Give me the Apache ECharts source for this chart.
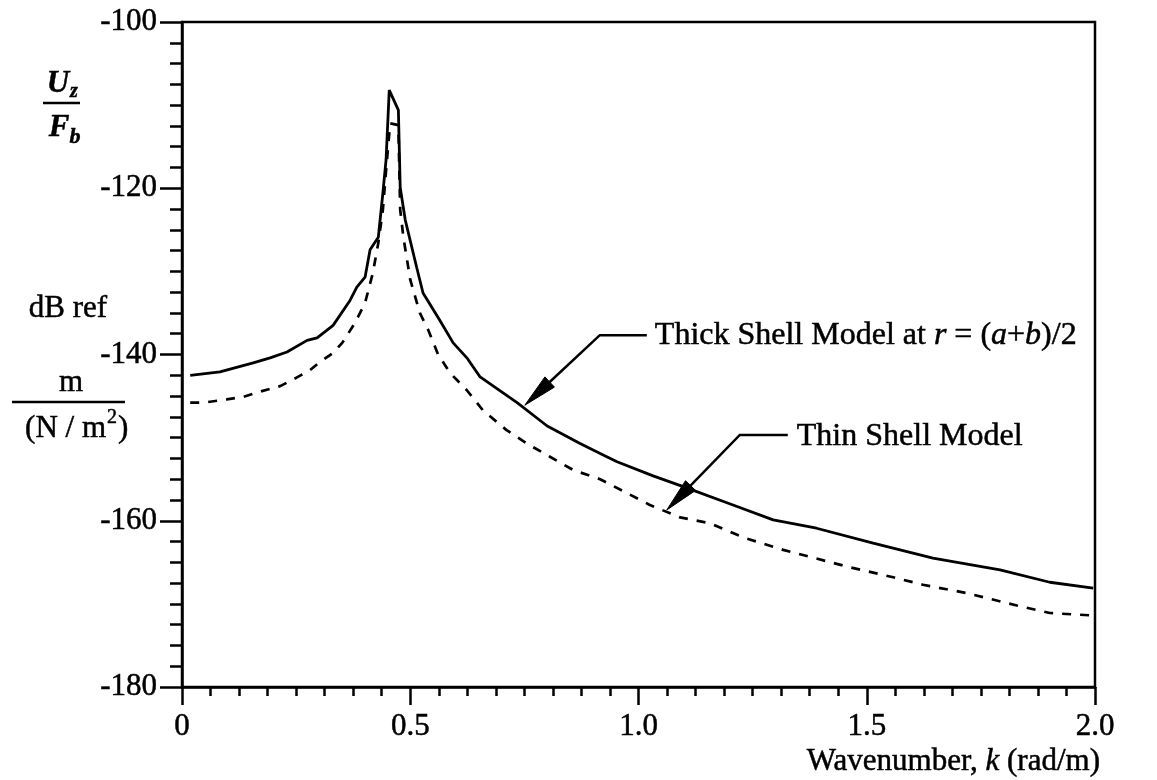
<!DOCTYPE html>
<html>
<head>
<meta charset="utf-8">
<script src="https://cdn.jsdelivr.net/npm/echarts@6/dist/echarts.min.js"></script>
<style>
  html, body { margin: 0; padding: 0; background: #fff; }
  #main { width: 1157px; height: 780px; }
</style>
</head>
<body>
<div id="main"></div>
<script>
var chartDom = document.getElementById('main');
var myChart = echarts.init(chartDom);
var option;

var FONT = "'Liberation Serif', 'Times New Roman', serif";

// thick shell model, r = (a+b)/2 (solid)
var kThick = [0.018, 0.083, 0.156, 0.193, 0.23, 0.274, 0.296, 0.331, 0.368, 0.383,
  0.401, 0.412, 0.43, 0.44, 0.447, 0.454, 0.474, 0.478, 0.489, 0.514,
  0.528, 0.565, 0.594, 0.624, 0.653, 0.734, 0.8, 0.872, 0.916, 0.953,
  1.032, 1.098, 1.207, 1.295, 1.39, 1.514, 1.645, 1.792, 1.901, 1.996];
var thick = [-142.5, -142.1, -141.0, -140.4, -139.7, -138.3, -138.0, -136.5, -133.5, -131.9,
  -130.7, -127.4, -125.9, -120.6, -116.6, -108.2, -110.6, -119.9, -123.8, -129.5,
  -132.6, -135.9, -138.6, -140.4, -142.7, -145.8, -148.6, -150.7, -151.9, -152.9,
  -154.6, -155.9, -158.1, -159.9, -160.9, -162.7, -164.5, -165.9, -167.4, -168.1];

// thin shell model (dashed)
var kThin = [0.018, 0.046, 0.098, 0.134, 0.175, 0.215, 0.247, 0.28, 0.3, 0.331,
  0.351, 0.379, 0.401, 0.418, 0.43, 0.44, 0.449, 0.456, 0.474, 0.476,
  0.478, 0.485, 0.5, 0.521, 0.539, 0.561, 0.587, 0.624, 0.659, 0.711,
  0.755, 0.806, 0.857, 0.916, 1.025, 1.091, 1.157, 1.229, 1.317, 1.463,
  1.558, 1.623, 1.719, 1.829, 1.901, 1.996];
var thin = [-145.8, -145.8, -145.4, -145.1, -144.4, -143.8, -142.9, -141.9, -141.0, -139.8,
  -138.6, -136.2, -133.8, -130.2, -126.6, -122.6, -116.6, -112.2, -112.4, -117.8,
  -122.6, -125.9, -131.0, -135.0, -137.0, -140.0, -142.2, -144.3, -146.7, -149.1,
  -150.7, -152.3, -153.9, -155.0, -158.1, -159.6, -160.3, -162.0, -163.5, -165.6,
  -166.8, -167.7, -168.7, -170.2, -171.1, -171.4];

// where the annotation arrows point (k, dB)
var arrowThick = [0.751, -146.1];
var arrowThin = [1.062, -158.7];

function pairs(xs, ys) {
  return xs.map(function (x, i) {
    return [x, ys[i]];
  });
}

var tickStyle = { color: '#000', width: 2.5 };

option = {
  animation: false,
  backgroundColor: '#fff',
  grid: {
    left: 182, right: 62, top: 22, bottom: 93,
    show: true, borderColor: '#000', borderWidth: 2.5
  },
  xAxis: {
    type: 'value',
    min: 0, max: 2, interval: 0.5,
    axisLine: { onZero: false, lineStyle: tickStyle },
    axisTick: { inside: false, length: 18, lineStyle: tickStyle },
    minorTick: { show: true, splitNumber: 8, length: 9, lineStyle: tickStyle },
    splitLine: { show: false },
    axisLabel: {
      margin: 24, color: '#000', fontFamily: FONT, fontSize: 31,
      textBorderColor: '#000', textBorderWidth: 0.5,
      formatter: function (v) { return v === 0 ? '0' : v.toFixed(1); }
    }
  },
  yAxis: {
    type: 'value',
    min: -180, max: -100, interval: 20,
    axisLine: { onZero: false, lineStyle: tickStyle },
    axisTick: { inside: false, length: 22, lineStyle: tickStyle },
    minorTick: { show: true, splitNumber: 8, length: 12, lineStyle: tickStyle },
    splitLine: { show: false },
    axisLabel: {
      margin: 25, color: '#000', fontFamily: FONT, fontSize: 31,
      textBorderColor: '#000', textBorderWidth: 0.5
    }
  },
  series: [
    {
      name: 'Thick Shell Model',
      type: 'line',
      showSymbol: false,
      data: pairs(kThick, thick),
      lineStyle: { color: '#000', width: 2.8, type: 'solid' },
      z: 3
    },
    {
      name: 'Thin Shell Model',
      type: 'line',
      showSymbol: false,
      data: pairs(kThin, thin),
      lineStyle: { color: '#000', width: 2.7, type: [9, 9] },
      z: 2
    }
  ]
};

option && myChart.setOption(option);

function textEl(x, y, str, extra) {
  var style = {
    text: str, x: 0, y: 0, fill: '#000',
    font: '31px ' + FONT, align: 'center', verticalAlign: 'middle',
    stroke: '#000', lineWidth: 0.5
  };
  for (var key in extra) style[key] = extra[key];
  return { type: 'text', x: x, y: y, style: style, z: 10 };
}

function lineEl(x1, y1, x2, y2) {
  return {
    type: 'line', shape: { x1: x1, y1: y1, x2: x2, y2: y2 },
    style: { stroke: '#000', lineWidth: 2.5 }, z: 10
  };
}

function arrow(tipData, dx, dy, run) {
  var tip = myChart.convertToPixel({ gridIndex: 0 }, tipData);
  var elbow = [tip[0] + dx, tip[1] + dy];
  var len = Math.sqrt(dx * dx + dy * dy);
  var ux = -dx / len, uy = -dy / len;
  var L = 34, w = 7;
  var base = [tip[0] - ux * L, tip[1] - uy * L];
  return {
    elbow: elbow,
    els: [
      {
        type: 'polyline',
        shape: { points: [[elbow[0] + run, elbow[1]], elbow, base] },
        style: { stroke: '#000', lineWidth: 2.5, fill: null }, z: 10
      },
      {
        type: 'polygon',
        shape: { points: [tip, [base[0] - uy * w, base[1] + ux * w], [base[0] + uy * w, base[1] - ux * w]] },
        style: { fill: '#000', stroke: '#000', lineWidth: 1 }, z: 10
      }
    ]
  };
}

var a1 = arrow(arrowThick, 75, -70, 47);
var a2 = arrow(arrowThin, 73, -75, 48);

function italicOf(size) {
  return {
    fontStyle: 'italic', fontFamily: FONT, fontSize: size,
    fill: '#000', stroke: '#000', lineWidth: 0.5
  };
}
var graphics = [].concat(a1.els, a2.els, [
  textEl(a1.elbow[0] + 55, a1.elbow[1], 'Thick Shell Model at {i|r} = ({i|a}+{i|b})/2', {
    align: 'left', font: '32px ' + FONT, rich: { i: italicOf(32) }
  }),
  textEl(a2.elbow[0] + 57, a2.elbow[1] + 2, 'Thin Shell Model', { align: 'left', font: '32px ' + FONT }),
  // y axis label
  textEl(58, 84, 'U', { font: 'italic bold 31px ' + FONT }),
  textEl(74, 92, 'z', { font: 'italic bold 20px ' + FONT }),
  lineEl(43, 103, 80, 103),
  textEl(59, 128, 'F', { font: 'italic bold 31px ' + FONT }),
  textEl(75, 137, 'b', { font: 'italic bold 22px ' + FONT }),
  textEl(68, 309, 'dB ref', {}),
  textEl(71, 383, 'm', {}),
  lineEl(12, 402, 125, 402),
  textEl(106, 429, '(N / m', { align: 'right' }),
  textEl(107, 418, '2', { font: '20px ' + FONT, align: 'left' }),
  textEl(118, 429, ')', { align: 'left' }),
  // x axis label
  textEl(1100, 762, 'Wavenumber, {i|k} (rad/m)', { align: 'right', rich: { i: italicOf(31) } })
]);

myChart.setOption({ graphic: graphics });
</script>
</body>
</html>
